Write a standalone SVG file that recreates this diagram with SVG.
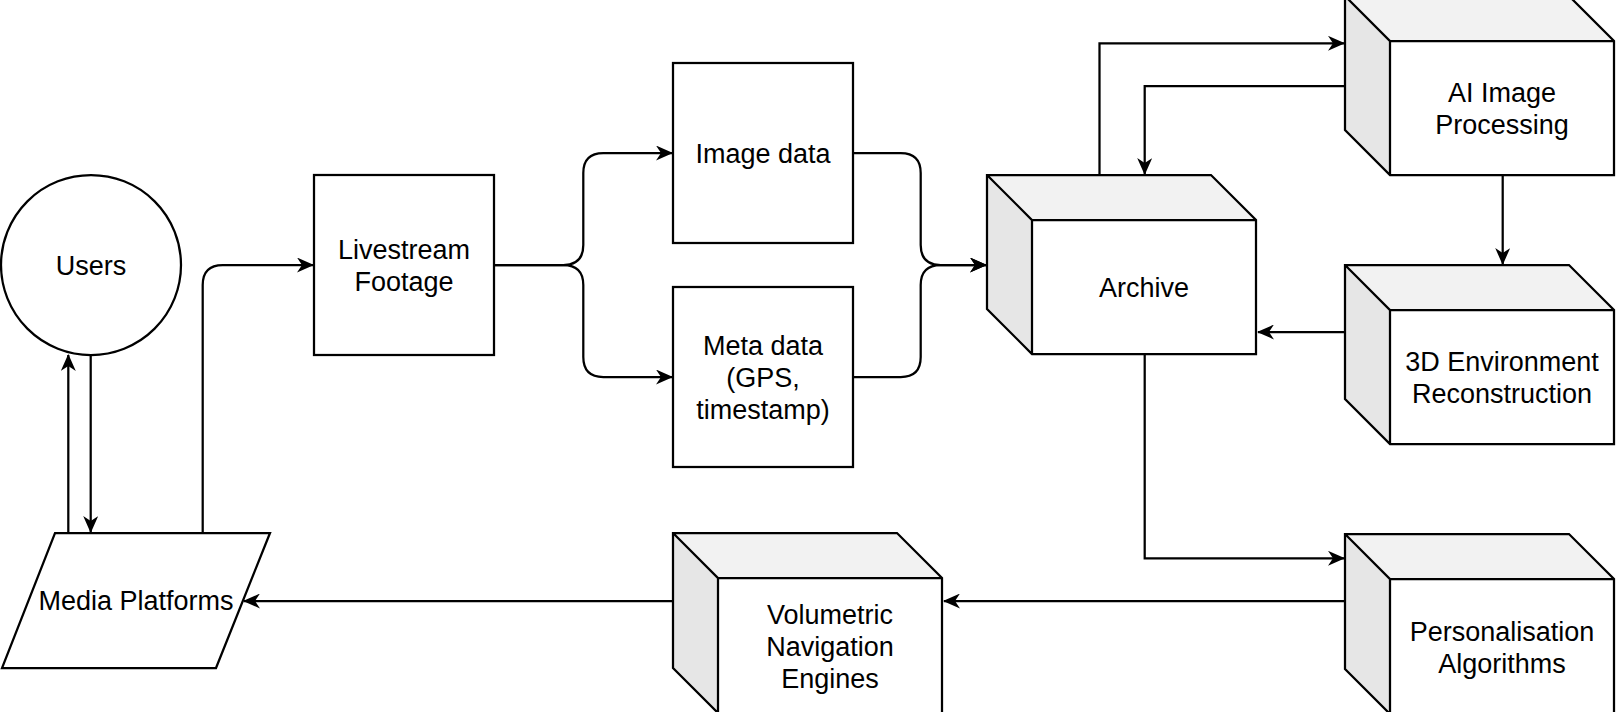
<svg xmlns="http://www.w3.org/2000/svg" width="1616" height="712" viewBox="0 0 1616 712">
<style>
.ln{fill:none;stroke:#000;stroke-width:2.25;}
.box{fill:#fff;stroke:#000;stroke-width:2.25;}
.top{fill:#f2f2f2;stroke:none;}
.side{fill:#e6e6e6;stroke:none;}
.front{fill:#fff;stroke:none;}
.edge{fill:none;stroke:#000;stroke-width:2.25;stroke-linejoin:miter;}
.arr{marker-end:url(#ah);}
text{font-family:"Liberation Sans",Arial,Helvetica,sans-serif;font-size:27px;fill:#000;text-anchor:middle;}
</style>
<defs>
<marker id="ah" markerUnits="userSpaceOnUse" viewBox="0 0 17 15" refX="16" refY="7.5" markerWidth="17" markerHeight="15" orient="auto">
<path d="M0,0 L17,7.5 L0,15 L5,7.5 Z" fill="#000"/>
</marker>
</defs>
<rect x="0" y="0" width="1616" height="712" fill="#fff"/>

<g id="connectors">
<path class="ln arr" d="M68.3,533 L68.3,355"/>
<path class="ln arr" d="M90.7,355 L90.7,532"/>
<path class="ln arr" d="M202.7,533 L202.7,285 Q202.7,265 222.7,265 L313,265"/>
<path class="ln arr" d="M494,265 L563.3,265 Q583.3,265 583.3,245 L583.3,173 Q583.3,153 603.3,153 L672,153"/>
<path class="ln arr" d="M494,265 L563.3,265 Q583.3,265 583.3,285 L583.3,357 Q583.3,377 603.3,377 L672,377"/>
<path class="ln arr" d="M853,153 L900.7,153 Q920.7,153 920.7,173 L920.7,245 Q920.7,265 940.7,265 L986,265"/>
<path class="ln arr" d="M853,377 L900.7,377 Q920.7,377 920.7,357 L920.7,285 Q920.7,265 940.7,265 L986,265"/>
<path class="ln arr" d="M1099.5,175 L1099.5,43.3 L1344,43.3"/>
<path class="ln arr" d="M1345,86 L1144.7,86 L1144.7,174"/>
<path class="ln arr" d="M1502.7,175 L1502.7,264"/>
<path class="ln arr" d="M1345,332 L1258,332"/>
<path class="ln arr" d="M1144.7,354 L1144.7,558.3 L1344,558.3"/>
<path class="ln arr" d="M1345,601 L944,601"/>
<path class="ln arr" d="M673,601 L244,601"/>
</g>

<g id="users">
<circle class="box" cx="91" cy="265" r="90"/>
<text x="91" y="275">Users</text>
</g>

<g id="media-platforms">
<path class="box" d="M55,533 L270,533 L216,668 L2,668 Z"/>
<text x="136" y="610">Media Platforms</text>
</g>

<g id="livestream">
<rect class="box" x="314" y="175" width="180" height="180"/>
<text x="404" y="259">Livestream</text>
<text x="404" y="291">Footage</text>
</g>

<g id="image-data">
<rect class="box" x="673" y="63" width="180" height="180"/>
<text x="763" y="163">Image data</text>
</g>

<g id="meta-data">
<rect class="box" x="673" y="287" width="180" height="180"/>
<text x="763" y="355">Meta data</text>
<text x="763" y="387">(GPS,</text>
<text x="763" y="419">timestamp)</text>
</g>

<g id="archive" transform="translate(987,175)">
<path class="top" d="M0,0 L224,0 L269,45 L45,45 Z"/>
<path class="side" d="M0,0 L45,45 L45,179 L0,134 Z"/>
<path class="edge" d="M0,0 L224,0 L269,45 L269,179 L45,179 L0,134 Z M0,0 L45,45 L269,45 M45,45 L45,179"/>
<text x="157" y="122">Archive</text>
</g>

<g id="ai-image-processing" transform="translate(1345,-4)">
<path class="top" d="M0,0 L224,0 L269,45 L45,45 Z"/>
<path class="side" d="M0,0 L45,45 L45,179 L0,134 Z"/>
<path class="edge" d="M0,0 L224,0 L269,45 L269,179 L45,179 L0,134 Z M0,0 L45,45 L269,45 M45,45 L45,179"/>
<text x="157" y="106">AI Image</text>
<text x="157" y="138">Processing</text>
</g>

<g id="3d-reconstruction" transform="translate(1345,265)">
<path class="top" d="M0,0 L224,0 L269,45 L45,45 Z"/>
<path class="side" d="M0,0 L45,45 L45,179 L0,134 Z"/>
<path class="edge" d="M0,0 L224,0 L269,45 L269,179 L45,179 L0,134 Z M0,0 L45,45 L269,45 M45,45 L45,179"/>
<text x="157" y="106">3D Environment</text>
<text x="157" y="138">Reconstruction</text>
</g>

<g id="personalisation" transform="translate(1345,534)">
<path class="top" d="M0,0 L224,0 L269,45 L45,45 Z"/>
<path class="side" d="M0,0 L45,45 L45,180 L0,135 Z"/>
<path class="edge" d="M0,0 L224,0 L269,45 L269,180 L45,180 L0,135 Z M0,0 L45,45 L269,45 M45,45 L45,180"/>
<text x="157" y="107">Personalisation</text>
<text x="157" y="139">Algorithms</text>
</g>

<g id="volumetric" transform="translate(673,533)">
<path class="top" d="M0,0 L224,0 L269,45 L45,45 Z"/>
<path class="side" d="M0,0 L45,45 L45,180 L0,135 Z"/>
<path class="edge" d="M0,0 L224,0 L269,45 L269,180 L45,180 L0,135 Z M0,0 L45,45 L269,45 M45,45 L45,180"/>
<text x="157" y="91">Volumetric</text>
<text x="157" y="123">Navigation</text>
<text x="157" y="155">Engines</text>
</g>
</svg>
